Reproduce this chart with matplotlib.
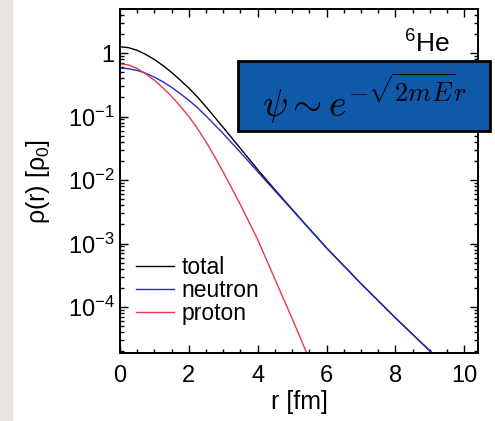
import matplotlib
matplotlib.use('Agg')
import matplotlib.pyplot as plt
from matplotlib.patches import Rectangle
from matplotlib.ticker import LogLocator, MultipleLocator, FixedFormatter, FixedLocator

# Density profiles of 6He (rho in units of rho_0)
r_np = [0, 0.25, 0.5, 0.75, 1.0, 1.25, 1.5, 1.75, 2.0, 2.25, 2.5, 2.75, 3.0,
        3.5, 4.0, 4.5, 5.0, 5.5, 6.0, 6.5, 7.0, 7.5, 8.0, 8.5, 9.0, 9.2]
rho_total = [1.255, 1.212, 1.10, 0.947, 0.789, 0.633, 0.495, 0.375, 0.280, 0.203,
             0.142, 0.0975, 0.0670, 0.0313, 0.0146, 7.03e-3, 3.46e-3, 1.71e-3,
             8.53e-4, 4.47e-4, 2.34e-4, 1.26e-4, 6.76e-5, 3.72e-5, 2.04e-5, 1.62e-5]
rho_neutron = [0.579, 0.566, 0.531, 0.479, 0.417, 0.351, 0.288, 0.229, 0.180, 0.138,
               0.102, 0.0741, 0.0537, 0.0272, 0.0135, 6.76e-3, 3.39e-3, 1.70e-3,
               8.51e-4, 4.47e-4, 2.34e-4, 1.26e-4, 6.76e-5, 3.72e-5, 2.04e-5, 1.62e-5]
r_p = [0, 0.25, 0.5, 0.75, 1.0, 1.25, 1.5, 1.75, 2.0, 2.25, 2.5, 2.75, 3.0,
       3.5, 4.0, 4.5, 5.0, 5.5]
rho_proton = [0.676, 0.646, 0.569, 0.468, 0.372, 0.282, 0.207, 0.146, 0.100, 0.0646,
              0.0398, 0.0234, 0.0133, 4.07e-3, 1.15e-3, 2.75e-4, 6.61e-5, 1.51e-5]

x_ticks = [0, 2, 4, 6, 8, 10]
y_ticks = [1e-4, 1e-3, 1e-2, 1e-1, 1]
y_tick_labels = [r'$\mathregular{10^{-4}}$', r'$\mathregular{10^{-3}}$',
                 r'$\mathregular{10^{-2}}$', r'$\mathregular{10^{-1}}$', '1']

plt.rcParams['font.family'] = ['Liberation Sans', 'DejaVu Sans']
plt.rcParams['mathtext.fontset'] = 'custom'
plt.rcParams['mathtext.rm'] = 'Liberation Sans'
plt.rcParams['mathtext.it'] = 'Liberation Sans:italic'

fig = plt.figure(figsize=(4.95, 4.21), dpi=100)
# grey strip of the slide on the left
fig.patches.append(Rectangle((0, 0), 12 / 495, 1, transform=fig.transFigure,
                             color='#e7e4e1', zorder=0))

ax = fig.add_axes([120 / 495, 1 - 353 / 421, 358 / 495, 344 / 421])
ax.plot(r_np, rho_total, color='black', lw=1.0, label='total')
ax.plot(r_np, rho_neutron, color='#2b2bc8', lw=1.0, label='neutron')
ax.plot(r_p, rho_proton, color='#e8384f', lw=1.0, label='proton')

ax.set_yscale('log')
ax.set_xlim(0, 10.4)
ax.set_ylim(1.89e-5, 4.93)

ax.xaxis.set_major_locator(FixedLocator(x_ticks))
ax.xaxis.set_minor_locator(MultipleLocator(0.5))
ax.yaxis.set_major_locator(FixedLocator(y_ticks))
ax.yaxis.set_major_formatter(FixedFormatter(y_tick_labels))
ax.yaxis.set_minor_locator(LogLocator(base=10, subs=range(2, 10), numticks=20))
ax.tick_params(which='both', direction='in', top=True, right=True, width=1.0)
ax.tick_params(which='major', length=6, labelsize=17)
ax.tick_params(axis='x', which='major', pad=9)
ax.tick_params(axis='y', which='major', pad=4)
ax.tick_params(which='minor', length=3)
for sp in ax.spines.values():
    sp.set_linewidth(1.4)

ax.set_xlabel('r [fm]', fontsize=18, labelpad=2)
ax.set_ylabel(r'$\mathregular{\rho(r)\ [\rho_0]}$', fontsize=18)
ax.yaxis.set_label_coords(-0.19, 0.5)

ax.text(0.92, 0.872, r'$\mathregular{^{6}}$He', transform=ax.transAxes, ha='right',
        va='baseline', fontsize=19)

ax.legend(loc='upper left', bbox_to_anchor=(0.0, 0.33), frameon=False,
          fontsize=16.5, handlelength=1.65, handletextpad=0.35, labelspacing=0.0,
          borderaxespad=0.3)

# blue box with the asymptotic wave function
fig.patches.append(Rectangle((238 / 495, 1 - 131 / 421), 252 / 495, 70 / 421,
                             transform=fig.transFigure, facecolor='#1058a8',
                             edgecolor='black', lw=2, zorder=5))
fig.text(365 / 495, 1 - 99 / 421, r'$\psi\sim e^{-\sqrt{2mE}r}$',
         math_fontfamily='cm', fontsize=27, ha='center', va='center',
         color='black', zorder=6)

fig.savefig('out.png', dpi=100)
